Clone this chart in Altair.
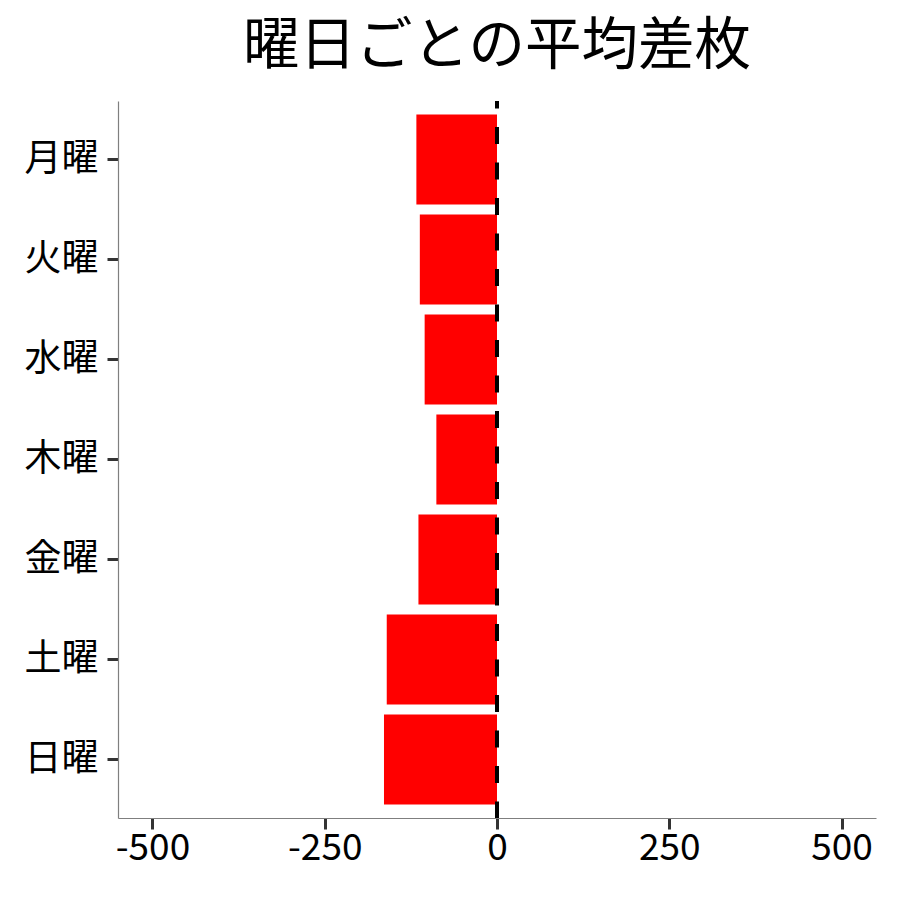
import altair as alt
import pandas as pd

days = ["月曜", "火曜", "水曜", "木曜", "金曜", "土曜", "日曜"]
diffs = [-117, -112, -105, -88, -114, -160, -164]
x_ticks = [-500, -250, 0, 250, 500]
title_text = "曜日ごとの平均差枚"

df = pd.DataFrame({"day": days, "diff": diffs})
ref = pd.DataFrame({"x": [0]})
FONT = "Noto Sans CJK JP"

xscale = alt.Scale(domain=[-550, 550], nice=False, zero=False)

bars = alt.Chart(df).mark_bar(color="#FF0000").encode(
    x=alt.X("diff:Q", scale=xscale,
            axis=alt.Axis(values=x_ticks, title=None, grid=False,
                          labelExpr="datum.value + ''",
                          domainColor="#7f7f7f", domainWidth=1.2,
                          tickColor="#333333", tickWidth=3, tickSize=11,
                          labelFont=FONT, labelFontSize=37, labelColor="#000000",
                          labelPadding=1)),
    y=alt.Y("day:N", sort=days,
            scale=alt.Scale(paddingInner=0.1, paddingOuter=0.135),
            axis=alt.Axis(title=None, grid=False,
                          domainColor="#7f7f7f", domainWidth=1.2,
                          tickColor="#333333", tickWidth=3, tickSize=11,
                          labelFont=FONT, labelFontSize=37, labelColor="#000000",
                          labelPadding=9)),
)

rule = alt.Chart(ref).mark_rule(
    color="black", strokeWidth=4, strokeDash=[17, 18.5], strokeDashOffset=9.5
).encode(x=alt.X("x:Q", scale=xscale))

chart = alt.layer(bars, rule).properties(
    width=758,
    height=717,
    title=alt.TitleParams(title_text, font=FONT, fontSize=56.5, fontWeight="normal",
                          color="#000000", anchor="middle", offset=24),
    autosize=alt.AutoSizeParams(type="none"),
    padding={"left": 110, "top": 93, "right": 16, "bottom": 66},
).configure_view(strokeWidth=0)

chart.save("out.html", embed_options={"renderer": "svg", "actions": False})
